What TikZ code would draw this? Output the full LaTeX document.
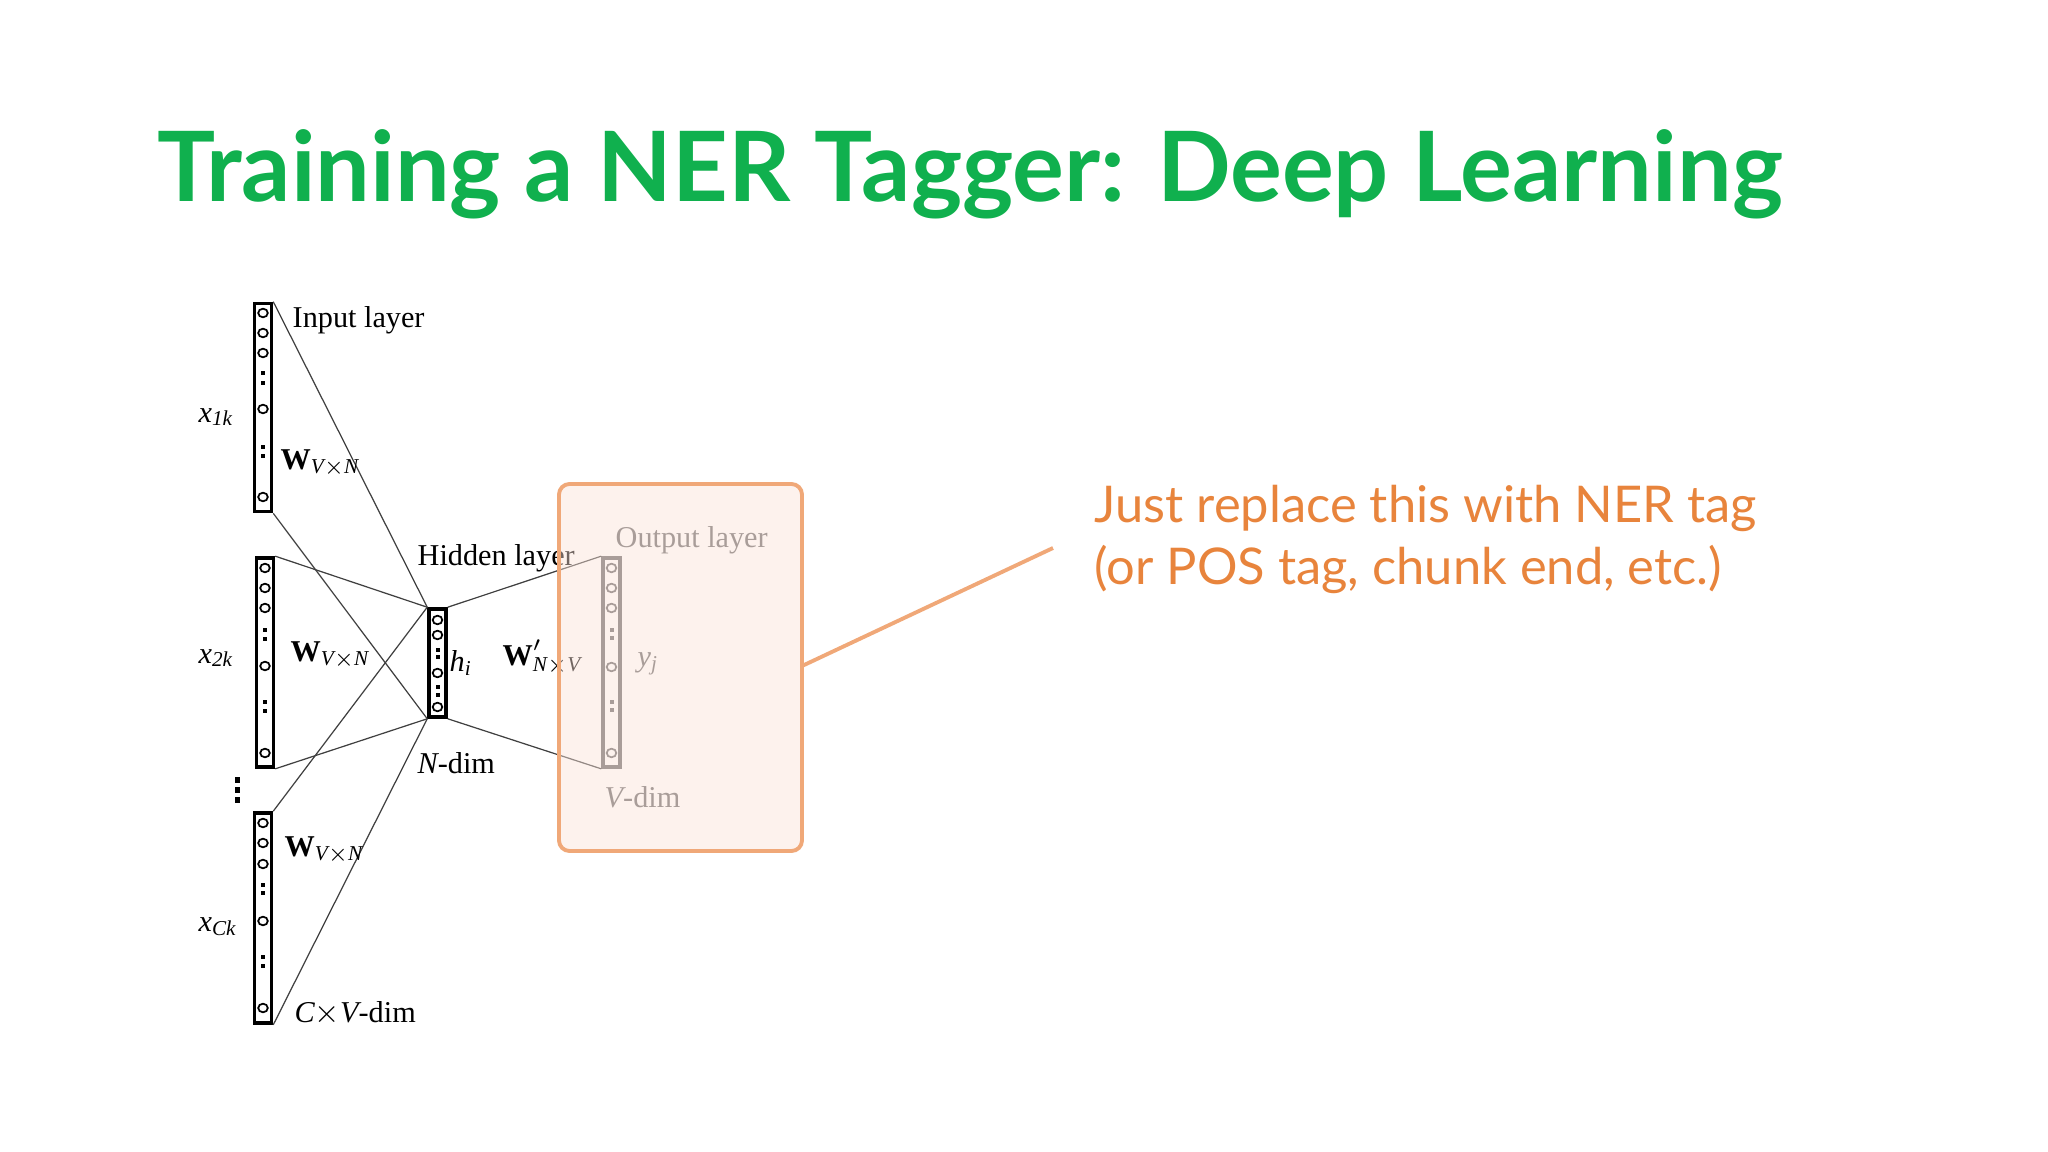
\documentclass[tikz,border=0pt]{standalone}
\usepackage{fontspec}
\setmainfont{Liberation Serif}
\newfontfamily\slidefont{Lato}
\definecolor{titlegreen}{HTML}{10B04E}
\definecolor{notecol}{HTML}{E8843C}
\definecolor{boxline}{HTML}{F0A878}
\definecolor{boxfill}{HTML}{FBE2D8}
\begin{document}
\begin{tikzpicture}[x=0.01cm,y=-0.01cm,
  layer/.style={draw,line width=1pt,inner sep=0,minimum width=0.17cm},
  conn/.style={draw=black!75,line width=0.35pt},
  lab/.style={font=\fontsize{8.6}{10}\selectfont,inner sep=0},
  neu/.style={line width=0.5pt},
]
\useasboundingbox (0,0) rectangle (2048,1152);
% title
\node[anchor=base west,inner sep=0,text=titlegreen,font=\slidefont\bfseries\fontsize{27.6}{30}\selectfont] (title) at (157,202) {Training a NER Tagger: Deep Learning};
% layers
\node[layer,minimum height=2.08cm] (in1) at (263,407.5) {};
\node[layer,minimum height=2.09cm] (in2) at (265,662.5) {};
\node[layer,minimum height=2.10cm] (in3) at (263,918) {};
\node[layer,minimum height=1.08cm] (hid) at (437.5,663) {};
\node[layer,draw=black!60,minimum height=2.09cm] (out) at (611.5,662.5) {};
% neurons
\foreach \y in {313,333,353,409,497} \draw[neu] (263,\y) ellipse (4.8 and 4.3);
\foreach \y in {373,383,447,456} \fill (261,\y-2) rectangle (265,\y+2);
\foreach \y in {568,588,608,666,753} \draw[neu] (265,\y) ellipse (4.8 and 4.3);
\foreach \y in {630,639,702,711} \fill (263,\y-2) rectangle (267,\y+2);
\foreach \y in {823,843,864,921,1008} \draw[neu] (263,\y) ellipse (4.8 and 4.3);
\foreach \y in {885,893,957,966} \fill (261,\y-2) rectangle (265,\y+2);
\foreach \y in {620,635,673,707} \draw[neu] (437.5,\y) ellipse (4.8 and 4.3);
\foreach \y in {650,657,687,695} \fill (435.5,\y-2) rectangle (439.5,\y+2);
\foreach \y in {568,588,608,667,753} \draw[neu,black!60] (611.5,\y) ellipse (4.8 and 4.3);
\foreach \y in {630,638,702,710} \fill[black!60] (609.5,\y-2) rectangle (613.5,\y+2);
\foreach \y in {780,790,800} \fill (235,\y-3) rectangle (240,\y+3);
% connectors
\draw[conn] (in1.north east) -- (hid.north west);
\draw[conn] (in1.south east) -- (hid.south west);
\draw[conn] (in2.north east) -- (hid.north west);
\draw[conn] (in2.south east) -- (hid.south west);
\draw[conn] (in3.north east) -- (hid.north west);
\draw[conn] (in3.south east) -- (hid.south west);
\draw[conn] (hid.north east) -- (out.north west);
\draw[conn] (hid.south east) -- (out.south west);
% labels
\node[lab,anchor=west] (linput) at (292,320) {Input layer};
\node[lab,anchor=west] (x1) at (198,417) {$\mathit{x}_{\mathit{1k}}$};
\node[lab,anchor=west] (x2) at (198,658) {$\mathit{x}_{\mathit{2k}}$};
\node[lab,anchor=west] (x3) at (198,927) {$\mathit{x}_{\mathit{Ck}}$};
\node[lab,anchor=west] (w1) at (280,463) {$\mathbf{W}_{\mathit{V\times N}}$};
\node[lab,anchor=west] (w2) at (290,655) {$\mathbf{W}_{\mathit{V\times N}}$};
\node[lab,anchor=west] (w3) at (284,850) {$\mathbf{W}_{\mathit{V\times N}}$};
\node[lab,anchor=west] (lhid) at (417,558) {Hidden layer};
\node[lab,anchor=west] (hi) at (449,663) {$\mathit{h}_{\mathit{i}}$};
\node[lab,anchor=west] (wp) at (502,657) {$\mathbf{W}'_{\mathit{N\times V}}$};
\node[lab,anchor=west,text=black!60] (yj) at (637,664) {$\mathit{y}_{\mathit{j}}$};
\node[lab,anchor=west,text=black!60] (lout) at (615,540) {Output layer};
\node[lab,anchor=west] (ndim) at (417,763) {$\mathit{N}$-dim};
\node[lab,anchor=west,text=black!60] (vdim) at (604,797) {$\mathit{V}$-dim};
\node[lab,anchor=west] (cdim) at (294,1013) {$\mathit{C}{\times}\mathit{V}$-dim};
% highlight box
\draw[line width=1.1pt,draw=boxline,fill=boxfill,fill opacity=0.45,rounded corners=3pt] (559,484) rectangle (802,851);
\coordinate (bx) at (802,666);
\coordinate (tip) at (1053,548);
\draw[line width=1.1pt,draw=boxline] (bx) -- (tip);
\node[anchor=base west,inner sep=0,text=notecol,font=\slidefont\fontsize{14.4}{17.4}\selectfont,align=left] (note) at (1094,584) {Just replace this with NER tag\\(or POS tag, chunk end, etc.)};
\end{tikzpicture}
\end{document}
